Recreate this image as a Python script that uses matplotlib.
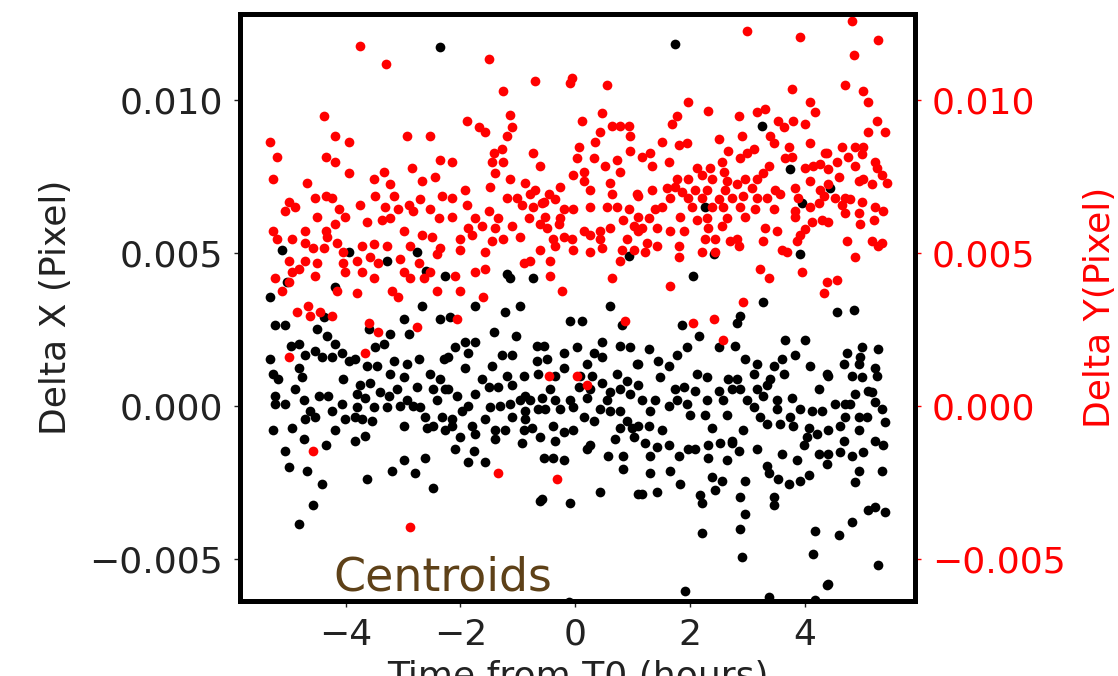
import numpy as np
import matplotlib.pyplot as plt

# (time from T0 in hours, delta in milli-pixel)
dx_points = [
    (-5.11, 5.10), (-3.95, 5.04), (-5.02, 4.06), (-5.31, 3.57), (-4.18, 3.88), (-5.23, 2.65), (-5.05, 2.65),
    (-4.50, 2.53), (-4.38, 2.90), (-4.33, 2.28), (-4.96, 1.98), (-4.82, 2.04), (-4.18, 2.04), (-5.31, 1.55),
    (-4.70, 1.67), (-4.53, 1.79), (-4.41, 1.61), (-4.24, 1.61), (-4.06, 1.73), (-3.95, 1.49), (-5.26, 1.06),
    (-4.82, 1.24), (-4.76, 0.94), (-5.17, 0.88), (-4.04, 0.88), (-4.88, 0.57), (-5.23, 0.32), (-4.47, 0.32),
    (-4.30, 0.32), (-5.23, 0.08), (-5.05, 0.08), (-4.73, 0.20), (-4.62, -0.17), (-4.53, -0.35), (-4.24, -0.17),
    (-4.06, 0.08), (-4.70, -0.41), (-4.01, -0.41), (-5.26, -0.78), (-4.94, -0.72), (-4.73, -1.08), (-4.35, -1.27),
    (-4.18, -0.78), (-5.05, -1.45), (-4.99, -2.00), (-4.67, -2.13), (-4.41, -2.55), (-4.56, -3.23), (-4.82, -3.84),
    (-2.36, 11.74), (-2.67, 3.26), (-2.99, 2.84), (-2.35, 2.84), (-3.60, 2.53), (-3.22, 2.35), (-2.90, 2.35),
    (-3.34, 2.04), (-3.48, 1.92), (-3.83, 1.55), (-3.63, 1.30), (-3.46, 1.30), (-3.16, 1.49), (-2.93, 1.37),
    (-2.73, 1.55), (-2.29, 1.55), (-3.22, 1.06), (-2.99, 0.94), (-2.53, 1.06), (-2.35, 0.88), (-3.75, 0.69),
    (-3.57, 0.75), (-3.11, 0.57), (-2.76, 0.63), (-2.47, 0.57), (-2.26, 0.57), (-3.80, 0.39), (-3.66, 0.26),
    (-3.40, 0.45), (-3.25, 0.32), (-2.93, 0.20), (-2.82, 0.02), (-2.41, 0.20), (-3.80, -0.04), (-3.51, -0.04),
    (-3.28, -0.04), (-3.05, 0.02), (-2.70, -0.04), (-3.83, -0.35), (-3.72, -0.41), (-3.54, -0.47), (-2.61, -0.35),
    (-2.32, -0.35), (-2.99, -0.66), (-2.58, -0.72), (-2.47, -0.66), (-2.26, -0.78), (-3.83, -1.15), (-3.66, -0.96),
    (-2.99, -1.76), (-2.61, -1.70), (-3.63, -2.37), (-3.19, -2.13), (-2.79, -2.19), (-2.47, -2.68),
    (-3.28, 4.73), (-2.60, 4.43), (-2.27, 4.24), (-2.75, 5.04),
    (-1.19, 4.31), (-1.13, 4.18), (-0.73, 4.18), (-1.74, 3.26), (-1.22, 3.08), (-0.96, 3.26), (-2.18, 2.90),
    (-1.42, 2.41), (-1.04, 2.28), (-2.09, 1.92), (-1.92, 2.10), (-1.74, 2.10), (-0.67, 1.98), (-2.21, 1.61),
    (-1.86, 1.73), (-1.28, 1.67), (-1.10, 1.67), (-0.67, 1.49), (-1.92, 1.24), (-1.45, 1.30), (-1.63, 0.88),
    (-1.19, 1.00), (-0.90, 1.00), (-0.64, 1.06), (-2.21, 0.57), (-1.51, 0.63), (-1.34, 0.63), (-1.10, 0.69),
    (-2.06, 0.32), (-1.74, 0.39), (-0.87, 0.32), (-1.13, 0.08), (-0.96, 0.20), (-0.78, 0.20), (-1.97, -0.17),
    (-1.86, 0.02), (-1.48, -0.04), (-1.31, 0.02), (-0.87, -0.17), (-0.64, -0.10), (-2.15, -0.41), (-1.57, -0.41),
    (-1.10, -0.35), (-0.87, -0.41), (-2.15, -0.66), (-1.80, -0.66), (-1.39, -0.78), (-1.74, -0.90), (-1.22, -0.78),
    (-0.90, -0.78), (-0.76, -0.72), (-2.00, -1.02), (-1.39, -1.08), (-0.93, -1.21), (-0.61, -1.02), (-2.09, -1.39),
    (-1.77, -1.45), (-1.86, -1.82), (-1.57, -1.82), (-0.61, -3.11),
    (0.93, 4.92), (0.61, 3.26), (-0.09, 2.77), (0.12, 2.77), (0.81, 2.65), (-0.55, 1.98), (0.46, 2.10),
    (0.78, 1.98), (0.96, 1.92), (-0.20, 1.73), (0.03, 1.92), (0.32, 1.73), (0.46, 1.61), (-0.49, 1.55),
    (1.07, 1.37), (-0.20, 1.24), (0.20, 1.37), (0.73, 1.06), (-0.35, 1.00), (0.09, 1.00), (0.29, 1.00),
    (0.46, 0.75), (0.90, 0.81), (-0.44, 0.57), (0.06, 0.63), (0.26, 0.57), (0.61, 0.45), (0.78, 0.57),
    (-0.58, 0.26), (-0.35, 0.20), (-0.09, 0.20), (0.20, 0.26), (0.55, 0.20), (0.96, 0.39), (-0.52, -0.10),
    (-0.26, -0.10), (-0.03, -0.04), (0.44, -0.10), (0.61, -0.17), (0.78, -0.17), (0.15, -0.35), (0.32, -0.47),
    (0.90, -0.47), (-0.38, -0.66), (-0.20, -0.84), (-0.03, -0.78), (0.78, -0.72), (0.99, -0.72), (-0.35, -1.15),
    (0.70, -1.08), (1.02, -1.02), (0.20, -1.39), (0.26, -1.27), (-0.55, -1.70), (-0.38, -1.70), (-0.20, -1.76),
    (0.58, -1.64), (0.84, -1.64), (0.84, -2.06), (0.44, -2.80), (-0.58, -3.04), (-0.09, -3.17), (1.10, -2.86),
    (-0.10, -6.40),
    (1.74, 11.84), (2.27, 6.51), (2.41, 4.98), (2.06, 4.24), (1.86, 2.65), (2.15, 2.28), (1.28, 1.86),
    (1.77, 1.67), (1.95, 1.92), (2.50, 1.92), (1.10, 1.37), (1.45, 1.49), (1.63, 1.30), (2.12, 1.06),
    (2.29, 0.94), (2.67, 0.88), (1.48, 0.94), (1.10, 0.69), (1.74, 0.57), (1.89, 0.63), (2.09, 0.51),
    (2.50, 0.51), (2.73, 0.57), (1.16, 0.20), (1.39, 0.20), (1.63, 0.02), (1.77, 0.20), (1.95, 0.08),
    (2.29, 0.20), (2.58, 0.20), (1.31, -0.17), (2.00, -0.29), (2.27, -0.29), (2.64, -0.29), (1.10, -0.66),
    (1.28, -0.66), (1.51, -0.78), (2.38, -0.72), (1.22, -1.21), (1.42, -1.33), (1.63, -1.27), (1.97, -1.39),
    (2.09, -1.39), (2.32, -1.27), (2.53, -1.21), (2.73, -1.15), (1.31, -1.64), (1.80, -1.64), (2.32, -1.70),
    (2.64, -1.76), (1.66, -2.13), (1.31, -2.19), (2.38, -2.31), (1.83, -2.55), (2.55, -2.43), (1.16, -2.86),
    (1.42, -2.80), (2.18, -2.92), (2.44, -2.74), (2.21, -3.17), (2.21, -4.15), (1.92, -6.05),
    (3.25, 9.17), (3.75, 7.74), (3.95, 6.63), (3.92, 4.98), (3.28, 3.39), (2.87, 2.96), (2.82, 2.71),
    (2.79, 1.98), (3.66, 2.16), (4.01, 2.16), (3.83, 1.67), (2.96, 1.55), (3.16, 1.37), (3.46, 1.30),
    (3.60, 1.55), (4.09, 1.30), (2.82, 0.88), (3.11, 1.06), (3.40, 0.88), (3.63, 1.06), (4.38, 1.06),
    (2.87, 0.57), (3.16, 0.57), (3.34, 0.69), (4.24, 0.57), (2.99, 0.20), (3.28, 0.32), (3.51, 0.20),
    (3.77, 0.26), (3.11, -0.04), (3.51, -0.10), (3.92, -0.10), (4.12, -0.17), (3.75, -0.35), (3.22, -0.35),
    (4.30, -0.17), (2.93, -0.78), (3.34, -0.59), (3.57, -0.59), (3.80, -0.66), (4.07, -0.72), (4.04, -1.02),
    (4.21, -0.90), (2.73, -1.21), (3.16, -1.39), (2.85, -1.45), (3.60, -1.57), (3.86, -1.76), (3.98, -1.27),
    (4.24, -1.57), (4.39, -1.88), (3.34, -1.94), (3.37, -2.19), (3.54, -2.37), (3.72, -2.55), (3.92, -2.43),
    (4.07, -2.25), (2.96, -2.43), (3.46, -2.98), (3.46, -3.23), (2.87, -2.98), (2.96, -3.53), (2.87, -4.02),
    (4.18, -4.09), (4.15, -4.82), (2.90, -4.94), (3.37, -6.25), (4.39, -5.86),
    (4.44, 7.12), (4.56, 3.08), (4.85, 3.14), (4.99, 1.92), (5.28, 1.86), (4.73, 1.73), (4.97, 1.61),
    (4.68, 1.37), (4.94, 1.37), (5.23, 1.24), (4.41, 1.00), (4.82, 1.00), (5.26, 1.00), (4.99, 0.94),
    (5.11, 0.51), (4.88, 0.39), (5.17, 0.45), (5.23, 0.14), (4.53, 0.08), (4.70, 0.08), (4.79, 0.08),
    (5.34, -0.10), (4.94, -0.35), (5.08, -0.35), (4.70, -0.35), (4.62, -0.66), (5.40, -0.53), (4.41, -0.78),
    (4.94, -0.78), (4.68, -1.15), (5.23, -1.15), (5.37, -1.27), (4.41, -1.57), (4.62, -1.51), (4.82, -1.64),
    (5.02, -1.51), (4.94, -2.13), (5.34, -2.13), (4.88, -2.49), (5.11, -3.41), (5.23, -3.29), (5.40, -3.47),
    (4.82, -3.78), (4.59, -4.21), (5.28, -5.19), (4.41, -5.80), (4.18, -6.35),
]

dy_points = [
    (-4.38, 9.49), (-5.31, 8.63), (-4.18, 8.84), (-3.95, 8.63), (-5.20, 8.14), (-4.35, 8.16), (-4.18, 7.98),
    (-5.26, 7.41), (-4.67, 7.31), (-3.95, 7.61), (-4.99, 6.69), (-4.53, 6.82), (-4.35, 6.88), (-4.24, 6.82),
    (-4.88, 6.51), (-5.05, 6.39), (-4.50, 6.20), (-4.12, 6.45), (-4.01, 6.20), (-4.18, 5.96), (-5.26, 5.71),
    (-4.70, 5.74), (-4.94, 5.47), (-4.35, 5.71), (-4.33, 5.53), (-5.20, 5.47), (-4.70, 5.35), (-4.56, 5.16),
    (-4.15, 5.35), (-4.38, 5.16), (-4.04, 5.04), (-4.99, 4.73), (-4.70, 4.73), (-4.50, 4.67), (-4.04, 4.67),
    (-4.82, 4.49), (-5.23, 4.18), (-4.94, 4.37), (-4.53, 4.24), (-4.01, 4.37), (-4.99, 4.06), (-5.11, 3.75),
    (-4.15, 3.75), (-4.85, 3.08), (-4.65, 3.26), (-4.62, 2.96), (-4.44, 3.08), (-4.24, 2.96), (-4.99, 1.61),
    (-4.56, -1.45),
    (-3.75, 11.78), (-3.29, 11.17), (-2.93, 8.84), (-2.53, 8.84), (-2.85, 7.80), (-2.35, 8.04), (-3.51, 7.43),
    (-3.34, 7.67), (-3.22, 7.25), (-2.67, 7.37), (-2.44, 7.49), (-3.48, 6.88), (-3.16, 6.88), (-2.70, 6.76),
    (-2.32, 6.88), (-3.75, 6.57), (-3.31, 6.51), (-3.08, 6.45), (-2.90, 6.57), (-2.82, 6.39), (-2.53, 6.45),
    (-3.63, 6.02), (-3.37, 6.08), (-3.22, 6.14), (-2.38, 6.14), (-2.99, 5.71), (-2.67, 5.59), (-2.50, 5.53),
    (-3.72, 5.22), (-3.51, 5.29), (-3.28, 5.22), (-2.87, 5.22), (-2.35, 5.16), (-3.80, 4.73), (-3.57, 4.86),
    (-3.43, 4.67), (-3.05, 4.80), (-2.73, 4.67), (-2.41, 4.98), (-3.72, 4.37), (-3.51, 4.18), (-2.99, 4.37),
    (-2.87, 4.18), (-2.64, 4.18), (-2.53, 4.37), (-3.80, 3.69), (-3.19, 3.75), (-3.08, 3.57), (-2.41, 3.75),
    (-3.60, 2.71), (-3.43, 2.41), (-2.76, 2.59), (-3.66, 1.73), (-2.87, -3.96),
    (-1.51, 11.35), (-0.70, 10.64), (-1.25, 10.31), (-1.89, 9.33), (-1.68, 9.14), (-1.57, 8.96), (-1.13, 9.51),
    (-1.10, 9.14), (-1.19, 8.84), (-1.42, 8.29), (-1.28, 8.41), (-2.15, 7.98), (-1.45, 7.98), (-1.25, 7.98),
    (-0.73, 8.29), (-0.61, 7.86), (-1.39, 7.61), (-1.13, 7.43), (-0.87, 7.31), (-1.48, 7.18), (-1.92, 7.06),
    (-0.70, 7.06), (-2.15, 6.82), (-1.19, 6.82), (-1.02, 6.82), (-0.78, 6.94), (-1.89, 6.57), (-1.51, 6.39),
    (-0.93, 6.57), (-0.73, 6.51), (-0.58, 6.63), (-2.15, 6.20), (-1.74, 6.14), (-1.34, 6.14), (-0.81, 6.14),
    (-1.86, 5.84), (-1.63, 5.90), (-1.39, 5.84), (-1.10, 5.90), (-0.61, 5.96), (-2.00, 5.47), (-1.80, 5.59),
    (-1.45, 5.41), (-1.25, 5.47), (-0.96, 5.53), (-2.00, 5.10), (-1.57, 5.04), (-0.61, 5.10), (-0.90, 4.67),
    (-0.78, 4.73), (-1.74, 4.37), (-1.57, 4.49), (-2.09, 4.24), (-2.00, 3.75), (-1.60, 3.57), (-2.06, 2.84),
    (-1.34, -2.19),
    (-0.09, 10.55), (-0.06, 10.74), (0.55, 10.49), (0.46, 9.57), (0.12, 9.33), (0.64, 9.17), (0.78, 9.17),
    (0.93, 9.17), (0.44, 8.96), (0.96, 8.84), (0.35, 8.65), (0.96, 8.35), (0.06, 8.47), (0.03, 8.10),
    (0.32, 8.10), (0.52, 7.86), (0.73, 8.04), (0.78, 7.67), (-0.03, 7.55), (0.15, 7.67), (0.15, 7.37),
    (0.61, 7.31), (-0.26, 7.18), (-0.46, 6.94), (0.26, 7.06), (0.64, 6.94), (1.07, 6.94), (-0.55, 6.69),
    (-0.35, 6.76), (-0.03, 6.45), (-0.20, 6.45), (0.26, 6.51), (0.55, 6.51), (0.73, 6.51), (0.93, 6.45),
    (-0.52, 6.20), (-0.26, 6.14), (-0.49, 5.84), (-0.29, 5.96), (0.15, 5.71), (0.26, 5.59), (0.44, 5.47),
    (0.61, 5.84), (0.84, 6.08), (1.02, 5.90), (-0.38, 5.47), (-0.20, 5.53), (-0.06, 5.47), (0.44, 5.71),
    (0.90, 5.47), (-0.35, 5.22), (-0.03, 5.10), (0.26, 5.04), (0.46, 5.16), (0.81, 5.10), (1.02, 5.10),
    (-0.44, 4.73), (0.78, 4.73), (-0.44, 4.24), (0.64, 4.18), (-0.23, 3.75), (0.87, 2.77), (-0.46, 1.00),
    (0.03, 1.00), (0.20, 0.69), (-0.32, -2.37),
    (1.97, 9.94), (2.32, 9.66), (1.77, 9.49), (1.68, 9.21), (1.51, 8.65), (1.80, 8.53), (1.95, 8.59),
    (2.50, 8.72), (1.16, 8.16), (1.31, 8.29), (1.34, 7.86), (1.63, 7.98), (2.67, 8.35), (2.12, 7.80),
    (2.35, 7.80), (2.56, 7.98), (2.59, 7.67), (1.77, 7.43), (1.97, 7.43), (2.21, 7.55), (2.38, 7.43),
    (2.64, 7.37), (1.10, 6.88), (1.34, 7.06), (1.60, 7.12), (1.74, 7.18), (1.86, 7.00), (2.09, 7.06),
    (2.29, 7.06), (2.61, 7.06), (1.66, 6.82), (1.97, 6.82), (2.21, 6.82), (2.50, 6.76), (2.73, 6.82),
    (1.39, 6.45), (1.51, 6.51), (2.03, 6.51), (2.38, 6.51), (2.58, 6.51), (1.10, 6.20), (1.28, 6.14),
    (1.83, 6.20), (2.12, 6.08), (2.29, 6.14), (2.64, 6.14), (1.16, 5.84), (1.42, 5.84), (1.66, 5.71),
    (1.89, 5.71), (2.32, 5.84), (2.56, 5.90), (1.10, 5.71), (2.27, 5.47), (2.44, 5.47), (2.70, 5.41),
    (1.25, 5.35), (1.42, 5.22), (1.80, 5.22), (1.22, 5.04), (1.80, 4.86), (2.21, 5.04), (2.44, 5.04),
    (1.66, 3.94), (2.06, 2.71), (2.41, 2.84), (2.58, 2.16),
    (2.99, 12.27), (3.92, 12.08), (3.77, 10.37), (4.09, 9.94), (4.18, 9.61), (2.85, 9.49), (3.16, 9.61),
    (3.31, 9.70), (3.54, 9.33), (3.63, 9.14), (3.80, 9.33), (4.01, 9.21), (2.90, 8.84), (3.40, 8.84),
    (3.46, 8.59), (2.99, 8.29), (3.11, 8.41), (2.87, 8.10), (3.72, 8.47), (3.77, 8.16), (4.09, 8.59),
    (4.36, 8.29), (3.37, 7.86), (3.66, 8.10), (4.01, 7.80), (4.15, 7.86), (4.27, 7.92), (2.96, 7.43),
    (3.16, 7.43), (3.28, 7.61), (2.82, 7.25), (3.08, 7.12), (3.48, 7.06), (3.83, 7.12), (4.09, 7.37),
    (4.27, 7.06), (2.93, 6.88), (3.16, 6.82), (3.34, 6.82), (3.57, 6.94), (3.89, 6.82), (4.33, 6.88),
    (2.87, 6.51), (3.14, 6.45), (3.46, 6.45), (3.83, 6.39), (4.09, 6.51), (4.24, 6.63), (2.96, 6.20),
    (3.83, 6.20), (4.12, 6.02), (4.30, 6.08), (3.31, 5.84), (3.51, 5.71), (4.01, 5.78), (2.82, 5.47),
    (2.85, 5.22), (3.28, 5.41), (3.86, 5.41), (3.92, 5.59), (3.60, 5.10), (3.69, 5.04), (3.22, 4.49),
    (3.37, 4.18), (3.95, 4.37), (4.33, 3.69), (2.93, 3.39),
    (4.82, 12.58), (5.28, 11.96), (4.85, 11.47), (4.70, 10.49), (5.02, 10.31), (5.11, 9.94), (5.26, 9.33),
    (5.11, 8.96), (5.40, 8.96), (4.38, 8.29), (4.65, 8.47), (4.76, 8.16), (4.88, 8.47), (5.02, 8.47),
    (4.99, 8.23), (4.56, 7.98), (5.23, 7.98), (4.41, 7.74), (4.88, 7.86), (5.26, 7.80), (4.59, 7.49),
    (4.94, 7.37), (5.02, 7.43), (5.34, 7.55), (5.17, 7.25), (5.43, 7.31), (4.41, 7.25), (4.53, 6.82),
    (4.70, 6.82), (4.79, 6.76), (4.65, 6.57), (4.99, 6.69), (5.23, 6.51), (4.70, 6.33), (4.94, 6.33),
    (5.37, 6.39), (4.41, 6.02), (4.97, 5.96), (5.20, 6.08), (4.73, 5.41), (5.17, 5.41), (5.34, 5.35),
    (5.28, 5.22), (4.88, 4.86), (4.56, 4.12), (4.38, 4.06),
]

x_ticks = [-4, -2, 0, 2, 4]
y_ticks = [-0.005, 0.0, 0.005, 0.010]

fs = 26

fig = plt.figure(figsize=(11.18, 6.76), dpi=100)
ax = fig.add_axes([0.2147, 0.1109, 0.6037, 0.8684])
ax2 = ax.twinx()

tx, vx = np.array(dx_points).T
ty, vy = np.array(dy_points).T
ax.plot(tx, vx * 1e-3, 'o', color='black', ms=7, mec='none')
ax2.plot(ty, vy * 1e-3, 'o', color='red', ms=7, mec='none')

ax.set_xlim(-5.84, 5.92)
ax.set_ylim(-0.00637, 0.01282)
ax2.set_ylim(-0.00637, 0.01282)
ax.set_xticks(x_ticks)
ax.set_yticks(y_ticks)
ax2.set_yticks(y_ticks)

ax.tick_params(labelsize=fs, length=4, width=1, pad=8, colors='#222222')
ax2.tick_params(axis='y', labelsize=fs, length=4, width=1, pad=8, colors='red')
for a in (ax, ax2):
    for s in a.spines.values():
        s.set_linewidth(3.5)
        s.set_color('black')

ax.set_xlabel('Time from T0 (hours)', fontsize=fs, color='#222222', labelpad=6)
ax.set_ylabel('Delta X (Pixel)', fontsize=fs, color='#222222', labelpad=12)
ax2.set_ylabel('Delta Y(Pixel)', fontsize=fs, color='red', labelpad=13)

ax.text(0.138, 0.018, 'Centroids', transform=ax.transAxes, fontsize=33,
        color='#5e4118', va='baseline')

fig.savefig('out.png', dpi=100)
